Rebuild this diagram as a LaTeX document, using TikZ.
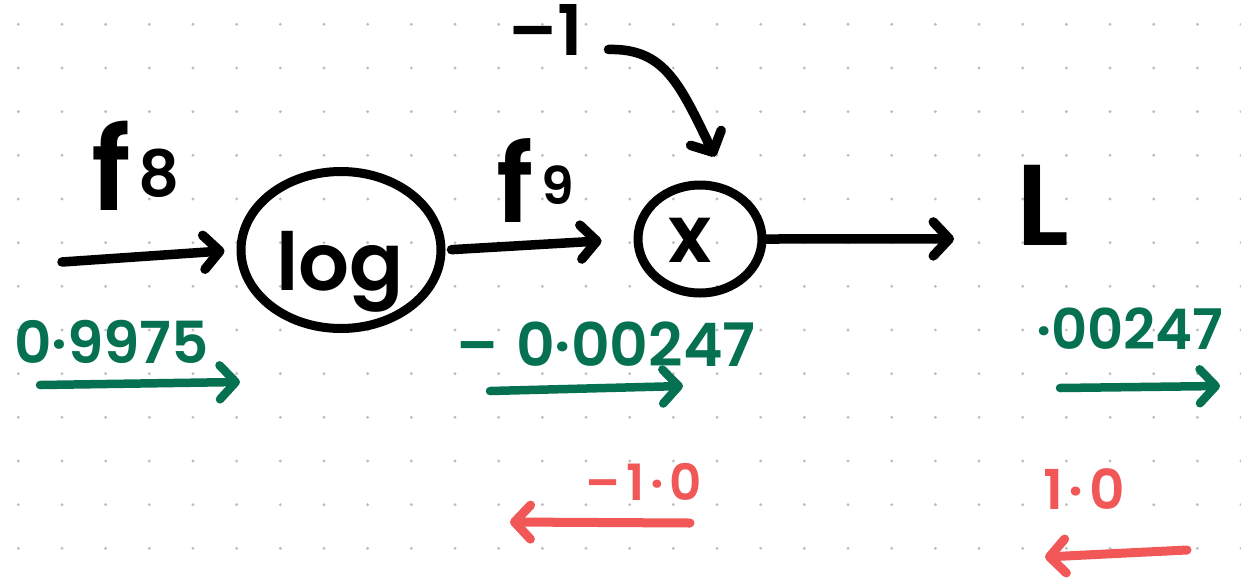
\documentclass[tikz,border=0pt]{standalone}
\usepackage{fontspec}
\setmainfont{Poppins}[BoldFont={Poppins SemiBold}]
\usetikzlibrary{arrows.meta,shapes.geometric,calc}
\definecolor{grn}{RGB}{6,113,80}
\definecolor{rd}{RGB}{242,87,87}
\definecolor{dotc}{RGB}{190,190,190}
\newcommand\fsz[1]{\fontsize{#1}{#1}\selectfont}
\begin{document}
\begin{tikzpicture}[x=1pt,y=-1pt,
  stroke/.style={line width=9.5pt,line cap=round,line join=round},
  arr/.style={stroke,-{Straight Barb[length=16pt,width=34pt,line cap=round,line join=round]}},
  garr/.style={arr,draw=grn,line width=8.5pt},
  rarr/.style={arr,draw=rd,line width=9pt},
  circ/.style={ellipse,draw,line width=9pt,inner sep=0pt},
  lbl/.style={anchor=base west,inner sep=0pt,outer sep=0pt,font=\bfseries},
  glbl/.style={lbl,text=grn},
  rlbl/.style={lbl,text=rd}]
\fill[white] (0,0) rectangle (1241,587);
\useasboundingbox (0,0) rectangle (1241,587);
% dot grid
\foreach \i in {0,...,28}{
  \foreach \j in {0,...,12}{
    \fill[dotc] ({18.3+43.67*\i},{24.3+43.67*\j}) circle (1.6);
  }
}
% main nodes
\node[circ,minimum width=200pt,minimum height=157pt] (log) at (341,250) {};
\node[circ,minimum width=124pt,minimum height=108pt] (xn) at (700,239) {};
\node[lbl] (logt) at (276,290) {\fsz{80}log};
\node[lbl] (xt) at (668,262) {\fsz{80}x};
\node[lbl] (Lt) at (1016,245) {\fsz{115}L};
\node[lbl] (f8) at (91,210) {\fsz{115}f\hspace{8pt}\raisebox{14pt}{\fsz{64}8}};
\node[lbl] (f9) at (496,222) {\fsz{108}f\hspace{8pt}\raisebox{18pt}{\fsz{52}9}};
\node[lbl] (m1) at (508,55) {\fsz{70}–1};
% black connectors
\coordinate (in) at (62,262);
\draw[arr,shorten >=12pt] (in) -- (log.west);
\draw[arr,shorten <=6pt,shorten >=32pt] (log.east) -- (xn.west);
\draw[arr,shorten >=62pt] (xn.east) -- ([yshift=-34pt]Lt.west);
\draw[arr] ([xshift=26pt,yshift=-20pt]m1.east) .. controls (665,48) and (680,85) .. ($(xn.north)+(15,-24)$);
% green values
\node[glbl] (g1t) at (14,363) {\fsz{58}0·9975};
\node[glbl] (g2t) at (456,366) {\fsz{60}–\hspace{18pt}0·00247};
\node[glbl] (g3t) at (1036,349) {\fsz{56}·00247};
\coordinate (g1a) at (40,385); \coordinate (g1b) at (240,382);
\coordinate (g2a) at (490,391); \coordinate (g2b) at (683,386);
\coordinate (g3a) at (1060,388); \coordinate (g3b) at (1220,386);
\draw[garr] (g1a) -- (g1b);
\draw[garr] (g2a) -- (g2b);
\draw[garr] (g3a) -- (g3b);
% red values
\node[rlbl] (r1t) at (585,500) {\fsz{50}–\hspace{6pt}1\hspace{6pt}·\hspace{6pt}0};
\node[rlbl] (r2t) at (1043,509) {\fsz{55}1\hspace{6pt}·\hspace{6pt}0};
\coordinate (r1a) at (690,523); \coordinate (r1b) at (510,522);
\coordinate (r2a) at (1187,550); \coordinate (r2b) at (1045,557);
\draw[rarr] (r1a) -- (r1b);
\draw[rarr] (r2a) -- (r2b);
\end{tikzpicture}
\end{document}
